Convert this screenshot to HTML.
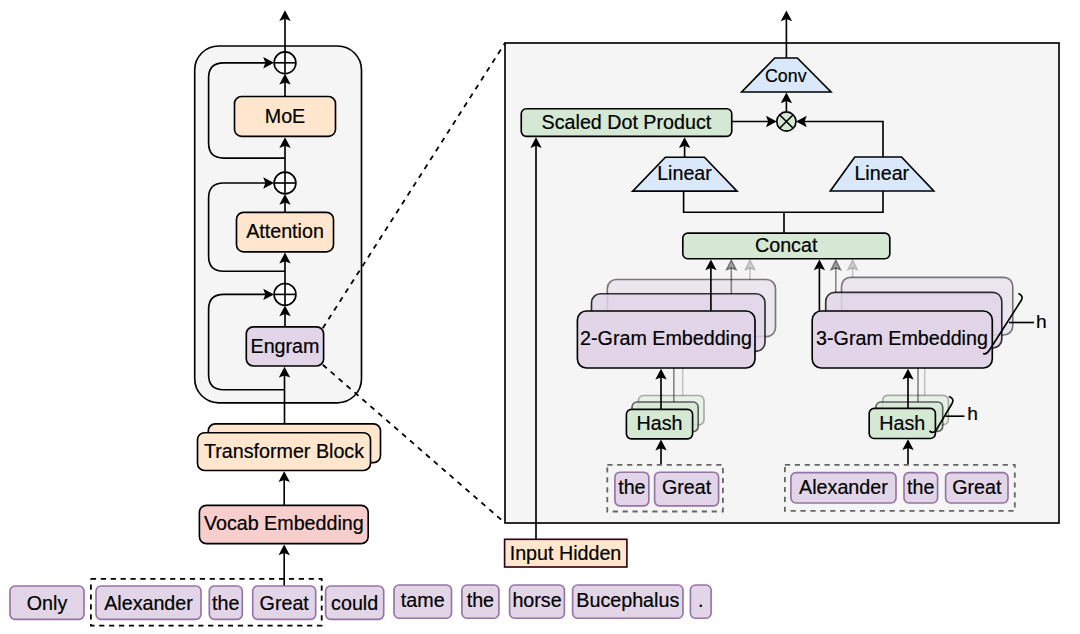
<!DOCTYPE html>
<html><head><meta charset="utf-8"><style>
html,body{margin:0;padding:0;background:#fff;width:1080px;height:634px;overflow:hidden}
svg{display:block}
text{font-family:"Liberation Sans",sans-serif;stroke:#000;stroke-width:0.2px}
</style></head><body>
<svg width="1080" height="634" viewBox="0 0 1080 634">
<rect x="194.70" y="46.00" width="166.80" height="356.80" rx="24" fill="#F5F5F5" stroke="#000" stroke-width="1.65" fill-opacity="1" stroke-opacity="1"/>
<path d="M285.00 52.00 L285.00 18.20" fill="none" stroke="#000" stroke-width="1.65" opacity="1"/>
<polygon points="285.00,10.20 290.70,21.00 285.00,18.80 279.30,21.00" fill="#000" opacity="1"/>
<circle cx="285" cy="62.8" r="10.9" fill="#fff" stroke="#000" stroke-width="1.65"/>
<path d="M274.10 62.80 L295.90 62.80" fill="none" stroke="#000" stroke-width="1.65" opacity="1"/>
<path d="M285.00 51.90 L285.00 73.70" fill="none" stroke="#000" stroke-width="1.65" opacity="1"/>
<circle cx="285" cy="183" r="10.9" fill="#fff" stroke="#000" stroke-width="1.65"/>
<path d="M274.10 183.00 L295.90 183.00" fill="none" stroke="#000" stroke-width="1.65" opacity="1"/>
<path d="M285.00 172.10 L285.00 193.90" fill="none" stroke="#000" stroke-width="1.65" opacity="1"/>
<circle cx="285" cy="294.4" r="10.9" fill="#fff" stroke="#000" stroke-width="1.65"/>
<path d="M274.10 294.40 L295.90 294.40" fill="none" stroke="#000" stroke-width="1.65" opacity="1"/>
<path d="M285.00 283.50 L285.00 305.30" fill="none" stroke="#000" stroke-width="1.65" opacity="1"/>
<path d="M285 158.1 L223.6 158.1 Q208.6 158.1 208.6 143.1 L208.6 77.8 Q208.6 62.8 223.6 62.8 L266 62.8" fill="none" stroke="#000" stroke-width="1.65" opacity="1"/>
<polygon points="274.00,62.80 263.20,68.50 265.40,62.80 263.20,57.10" fill="#000" opacity="1"/>
<path d="M285 271.2 L223.6 271.2 Q208.6 271.2 208.6 256.2 L208.6 198 Q208.6 183 223.6 183 L266 183" fill="none" stroke="#000" stroke-width="1.65" opacity="1"/>
<polygon points="274.00,183.00 263.20,188.70 265.40,183.00 263.20,177.30" fill="#000" opacity="1"/>
<path d="M285 389.7 L223.6 389.7 Q208.6 389.7 208.6 374.7 L208.6 309.4 Q208.6 294.4 223.6 294.4 L266 294.4" fill="none" stroke="#000" stroke-width="1.65" opacity="1"/>
<polygon points="274.00,294.40 263.20,300.10 265.40,294.40 263.20,288.70" fill="#000" opacity="1"/>
<rect x="234.50" y="96.50" width="101.00" height="39.80" rx="7" fill="#FFE6CC" stroke="#000" stroke-width="1.65" fill-opacity="1" stroke-opacity="1"/>
<text x="285.00" y="122.90" font-size="19.7" text-anchor="middle" fill="#000">MoE</text>
<path d="M285.00 172.10 L285.00 145.20" fill="none" stroke="#000" stroke-width="1.65" opacity="1"/>
<polygon points="285.00,137.20 290.70,148.00 285.00,145.80 279.30,148.00" fill="#000" opacity="1"/>
<path d="M285.00 96.50 L285.00 81.80" fill="none" stroke="#000" stroke-width="1.65" opacity="1"/>
<polygon points="285.00,73.80 290.70,84.60 285.00,82.40 279.30,84.60" fill="#000" opacity="1"/>
<rect x="236.50" y="212.30" width="97.00" height="39.50" rx="7" fill="#FFE6CC" stroke="#000" stroke-width="1.65" fill-opacity="1" stroke-opacity="1"/>
<text x="285.00" y="237.90" font-size="19.7" text-anchor="middle" fill="#000">Attention</text>
<path d="M285.00 212.30 L285.00 202.00" fill="none" stroke="#000" stroke-width="1.65" opacity="1"/>
<polygon points="285.00,194.00 290.70,204.80 285.00,202.60 279.30,204.80" fill="#000" opacity="1"/>
<path d="M285.00 283.50 L285.00 260.60" fill="none" stroke="#000" stroke-width="1.65" opacity="1"/>
<polygon points="285.00,252.60 290.70,263.40 285.00,261.20 279.30,263.40" fill="#000" opacity="1"/>
<rect x="246.30" y="326.80" width="77.30" height="39.20" rx="7" fill="#E1D5E7" stroke="#000" stroke-width="1.65" fill-opacity="1" stroke-opacity="1"/>
<text x="285.00" y="352.90" font-size="19.7" text-anchor="middle" fill="#000">Engram</text>
<path d="M285.00 326.80 L285.00 313.40" fill="none" stroke="#000" stroke-width="1.65" opacity="1"/>
<polygon points="285.00,305.40 290.70,316.20 285.00,314.00 279.30,316.20" fill="#000" opacity="1"/>
<path d="M284.50 432.70 L284.50 374.80" fill="none" stroke="#000" stroke-width="1.65" opacity="1"/>
<polygon points="284.50,366.80 290.20,377.60 284.50,375.40 278.80,377.60" fill="#000" opacity="1"/>
<rect x="208.30" y="423.80" width="172.20" height="38.80" rx="7" fill="#FFE6CC" stroke="#000" stroke-width="1.65" fill-opacity="1" stroke-opacity="1"/>
<rect x="197.50" y="432.70" width="173.00" height="37.80" rx="7" fill="#FFE6CC" stroke="#000" stroke-width="1.65" fill-opacity="1" stroke-opacity="1"/>
<text x="284.00" y="458.20" font-size="19.7" text-anchor="middle" fill="#000">Transformer Block</text>
<path d="M284.20 505.30 L284.20 479.30" fill="none" stroke="#000" stroke-width="1.65" opacity="1"/>
<polygon points="284.20,471.30 289.90,482.10 284.20,479.90 278.50,482.10" fill="#000" opacity="1"/>
<rect x="199.40" y="505.30" width="168.80" height="38.30" rx="7" fill="#F8CECC" stroke="#000" stroke-width="1.65" fill-opacity="1" stroke-opacity="1"/>
<text x="283.80" y="530.00" font-size="19.7" text-anchor="middle" fill="#000">Vocab Embedding</text>
<path d="M284.20 586.00 L284.20 552.40" fill="none" stroke="#000" stroke-width="1.65" opacity="1"/>
<polygon points="284.20,544.40 289.90,555.20 284.20,553.00 278.50,555.20" fill="#000" opacity="1"/>
<path d="M90.90 578.80 L321.70 578.80 L321.70 625.70 L90.90 625.70 L90.90 578.80" fill="none" stroke="#000" stroke-width="1.8" stroke-dasharray="5.2 4.7" opacity="1"/>
<rect x="10.00" y="586.00" width="74.00" height="33.30" rx="5" fill="#E1D5E7" stroke="#9673A6" stroke-width="1.65" fill-opacity="1" stroke-opacity="1"/>
<text x="47.00" y="609.60" font-size="19.7" text-anchor="middle" fill="#000">Only</text>
<rect x="96.00" y="586.00" width="105.00" height="33.30" rx="5" fill="#E1D5E7" stroke="#9673A6" stroke-width="1.65" fill-opacity="1" stroke-opacity="1"/>
<text x="148.50" y="609.60" font-size="19.7" text-anchor="middle" fill="#000">Alexander</text>
<rect x="209.30" y="586.00" width="33.00" height="33.30" rx="5" fill="#E1D5E7" stroke="#9673A6" stroke-width="1.65" fill-opacity="1" stroke-opacity="1"/>
<text x="225.80" y="609.60" font-size="19.7" text-anchor="middle" fill="#000">the</text>
<rect x="252.70" y="586.00" width="63.00" height="33.30" rx="5" fill="#E1D5E7" stroke="#9673A6" stroke-width="1.65" fill-opacity="1" stroke-opacity="1"/>
<text x="284.20" y="609.60" font-size="19.7" text-anchor="middle" fill="#000">Great</text>
<rect x="325.60" y="586.00" width="58.10" height="33.30" rx="5" fill="#E1D5E7" stroke="#9673A6" stroke-width="1.65" fill-opacity="1" stroke-opacity="1"/>
<text x="354.65" y="609.50" font-size="19.7" text-anchor="middle" fill="#000">could</text>
<rect x="394.00" y="585.00" width="57.50" height="33.20" rx="5" fill="#E1D5E7" stroke="#9673A6" stroke-width="1.65" fill-opacity="1" stroke-opacity="1"/>
<text x="422.75" y="607.40" font-size="19.7" text-anchor="middle" fill="#000">tame</text>
<rect x="461.90" y="585.00" width="37.00" height="33.20" rx="5" fill="#E1D5E7" stroke="#9673A6" stroke-width="1.65" fill-opacity="1" stroke-opacity="1"/>
<text x="480.40" y="607.40" font-size="19.7" text-anchor="middle" fill="#000">the</text>
<rect x="509.60" y="585.00" width="54.80" height="33.20" rx="5" fill="#E1D5E7" stroke="#9673A6" stroke-width="1.65" fill-opacity="1" stroke-opacity="1"/>
<text x="537.00" y="607.40" font-size="19.7" text-anchor="middle" fill="#000">horse</text>
<rect x="572.60" y="585.00" width="110.40" height="33.20" rx="5" fill="#E1D5E7" stroke="#9673A6" stroke-width="1.65" fill-opacity="1" stroke-opacity="1"/>
<text x="627.80" y="607.20" font-size="19.7" text-anchor="middle" fill="#000">Bucephalus</text>
<rect x="690.40" y="585.00" width="20.70" height="33.20" rx="5" fill="#E1D5E7" stroke="#9673A6" stroke-width="1.65" fill-opacity="1" stroke-opacity="1"/>
<text x="700.75" y="607.40" font-size="19.7" text-anchor="middle" fill="#000">.</text>
<path d="M322.80 328.20 L505.00 43.00" fill="none" stroke="#000" stroke-width="1.8" stroke-dasharray="5.2 5.3" opacity="1"/>
<path d="M322.80 364.80 L505.00 523.00" fill="none" stroke="#000" stroke-width="1.8" stroke-dasharray="5.2 5.3" opacity="1"/>
<rect x="505.00" y="43.00" width="554.00" height="480.00" rx="0" fill="#F5F5F5" stroke="#000" stroke-width="1.65" fill-opacity="1" stroke-opacity="1"/>
<rect x="504.60" y="539.30" width="122.30" height="27.70" rx="0" fill="#FFE6CC" stroke="#33001A" stroke-width="1.65" fill-opacity="1" stroke-opacity="1"/>
<text x="565.50" y="560.10" font-size="19.7" text-anchor="middle" fill="#000">Input Hidden</text>
<path d="M536.00 539.30 L536.00 145.20" fill="none" stroke="#000" stroke-width="1.65" opacity="1"/>
<polygon points="536.00,137.20 541.70,148.00 536.00,145.80 530.30,148.00" fill="#000" opacity="1"/>
<rect x="521.25" y="108.75" width="210.50" height="27.60" rx="5" fill="#D5E8D4" stroke="#000" stroke-width="1.65" fill-opacity="1" stroke-opacity="1"/>
<text x="626.40" y="129.00" font-size="19.7" text-anchor="middle" fill="#000">Scaled Dot Product</text>
<circle cx="786.4" cy="121.5" r="9.6" fill="#D5E8D4" stroke="#000" stroke-width="1.65"/>
<path d="M779.61 114.71 L793.19 128.29" fill="none" stroke="#000" stroke-width="1.65" opacity="1"/>
<path d="M779.61 128.29 L793.19 114.71" fill="none" stroke="#000" stroke-width="1.65" opacity="1"/>
<path d="M731.70 121.50 L768.80 121.50" fill="none" stroke="#000" stroke-width="1.65" opacity="1"/>
<polygon points="776.80,121.50 766.00,127.20 768.20,121.50 766.00,115.80" fill="#000" opacity="1"/>
<path d="M774.7 58 L797.3 58 L831 92 L741.7 92 Z" fill="#DAE8FC" stroke="#000" stroke-width="1.65" opacity="1"/>
<text x="785.80" y="81.70" font-size="17.8" text-anchor="middle" fill="#000">Conv</text>
<path d="M786.40 111.90 L786.40 100.50" fill="none" stroke="#000" stroke-width="1.65" opacity="1"/>
<polygon points="786.40,92.50 792.10,103.30 786.40,101.10 780.70,103.30" fill="#000" opacity="1"/>
<path d="M786.40 58.00 L786.40 18.40" fill="none" stroke="#000" stroke-width="1.65" opacity="1"/>
<polygon points="786.40,10.40 792.10,21.20 786.40,19.00 780.70,21.20" fill="#000" opacity="1"/>
<path d="M854.8 157 L901.5 157 L933.75 191 L830.3 191 Z" fill="#DAE8FC" stroke="#000" stroke-width="1.65" opacity="1"/>
<text x="881.80" y="180.20" font-size="19.7" text-anchor="middle" fill="#000">Linear</text>
<path d="M883.00 157.00 L883.00 121.50 L804.00 121.50" fill="none" stroke="#000" stroke-width="1.65" opacity="1"/>
<polygon points="796.00,121.50 806.80,127.20 804.60,121.50 806.80,115.80" fill="#000" opacity="1"/>
<path d="M665.4 157.2 L704.4 157.2 L737 191.1 L632.7 191.1 Z" fill="#DAE8FC" stroke="#000" stroke-width="1.65" opacity="1"/>
<text x="684.50" y="180.10" font-size="19.7" text-anchor="middle" fill="#000">Linear</text>
<path d="M684.60 157.20 L684.60 145.20" fill="none" stroke="#000" stroke-width="1.65" opacity="1"/>
<polygon points="684.60,137.20 690.30,148.00 684.60,145.80 678.90,148.00" fill="#000" opacity="1"/>
<path d="M683.60 191.10 L683.60 212.20 L883.00 212.20 L883.00 191.00" fill="none" stroke="#000" stroke-width="1.65" opacity="1"/>
<path d="M784.00 212.20 L784.00 233.00" fill="none" stroke="#000" stroke-width="1.65" opacity="1"/>
<rect x="682.80" y="233.10" width="207.00" height="25.60" rx="5" fill="#D5E8D4" stroke="#000" stroke-width="1.65" fill-opacity="1" stroke-opacity="1"/>
<text x="786.20" y="252.10" font-size="19.7" text-anchor="middle" fill="#000">Concat</text>
<rect x="607.30" y="279.50" width="168.20" height="57.10" rx="9" fill="#E1D5E7" stroke="#000" stroke-width="1.65" fill-opacity="0.45" stroke-opacity="0.5"/>
<rect x="591.50" y="293.70" width="173.50" height="57.70" rx="9" fill="#E1D5E7" stroke="#000" stroke-width="1.65" fill-opacity="0.85" stroke-opacity="0.8"/>
<rect x="577.40" y="311.00" width="177.60" height="57.00" rx="9" fill="#E1D5E7" stroke="#000" stroke-width="1.65" fill-opacity="1" stroke-opacity="1"/>
<text x="666.00" y="344.90" font-size="19.7" text-anchor="middle" fill="#000">2-Gram Embedding</text>
<path d="M710.90 311.00 L710.90 267.50" fill="none" stroke="#000" stroke-width="1.65" opacity="1"/>
<polygon points="710.90,259.50 716.60,270.30 710.90,268.10 705.20,270.30" fill="#000" opacity="1"/>
<path d="M731.30 293.70 L731.30 267.50" fill="none" stroke="#000" stroke-width="1.65" opacity="0.45"/>
<polygon points="731.30,260.10 736.20,269.90 731.30,268.00 726.40,269.90" fill="#000" fill-opacity="0.34" stroke="#000" stroke-opacity="0.45" stroke-width="1.3" stroke-linejoin="miter"/>
<path d="M750.00 279.50 L750.00 267.50" fill="none" stroke="#000" stroke-width="1.65" opacity="0.2"/>
<polygon points="750.00,260.10 754.90,269.90 750.00,268.00 745.10,269.90" fill="#000" fill-opacity="0.15" stroke="#000" stroke-opacity="0.2" stroke-width="1.3" stroke-linejoin="miter"/>
<rect x="841.50" y="277.30" width="171.30" height="57.70" rx="9" fill="#E1D5E7" stroke="#000" stroke-width="1.65" fill-opacity="0.45" stroke-opacity="0.5"/>
<rect x="825.70" y="292.40" width="176.10" height="55.60" rx="9" fill="#E1D5E7" stroke="#000" stroke-width="1.65" fill-opacity="0.85" stroke-opacity="0.8"/>
<rect x="812.20" y="311.00" width="180.10" height="57.00" rx="9" fill="#E1D5E7" stroke="#000" stroke-width="1.65" fill-opacity="1" stroke-opacity="1"/>
<text x="902.00" y="344.50" font-size="19.7" text-anchor="middle" fill="#000">3-Gram Embedding</text>
<path d="M819.40 311.00 L819.40 267.50" fill="none" stroke="#000" stroke-width="1.65" opacity="1"/>
<polygon points="819.40,259.50 825.10,270.30 819.40,268.10 813.70,270.30" fill="#000" opacity="1"/>
<path d="M835.80 292.40 L835.80 267.50" fill="none" stroke="#000" stroke-width="1.65" opacity="0.45"/>
<polygon points="835.80,260.10 840.70,269.90 835.80,268.00 830.90,269.90" fill="#000" fill-opacity="0.34" stroke="#000" stroke-opacity="0.45" stroke-width="1.3" stroke-linejoin="miter"/>
<path d="M852.60 277.30 L852.60 267.50" fill="none" stroke="#000" stroke-width="1.65" opacity="0.2"/>
<polygon points="852.60,260.10 857.50,269.90 852.60,268.00 847.70,269.90" fill="#000" fill-opacity="0.15" stroke="#000" stroke-opacity="0.2" stroke-width="1.3" stroke-linejoin="miter"/>
<path d="M1018.3 293.6 Q1023.5 295.5 1021.5 300 L989.5 350 Q986.5 355 983 353.5" fill="none" stroke="#000" stroke-width="1.65" opacity="1"/>
<path d="M1009.00 322.50 L1034.00 322.50" fill="none" stroke="#000" stroke-width="1.65" opacity="1"/>
<text x="1036.00" y="328.20" font-size="19.2" text-anchor="start" fill="#000">h</text>
<rect x="638.40" y="395.50" width="65.60" height="29.30" rx="5" fill="#D5E8D4" stroke="#000" stroke-width="1.65" fill-opacity="0.4" stroke-opacity="0.3"/>
<rect x="632.00" y="402.00" width="66.20" height="29.60" rx="5" fill="#D5E8D4" stroke="#000" stroke-width="1.65" fill-opacity="0.85" stroke-opacity="0.6"/>
<rect x="626.40" y="409.40" width="66.20" height="29.40" rx="5" fill="#D5E8D4" stroke="#000" stroke-width="1.65" fill-opacity="1" stroke-opacity="1"/>
<text x="659.50" y="429.90" font-size="19.7" text-anchor="middle" fill="#000">Hash</text>
<path d="M661.00 409.40 L661.00 376.80" fill="none" stroke="#000" stroke-width="1.65" opacity="1"/>
<polygon points="661.00,368.80 666.70,379.60 661.00,377.40 655.30,379.60" fill="#000" opacity="1"/>
<path d="M673.80 402.00 L673.80 368.00" fill="none" stroke="#000" stroke-width="1.65" opacity="0.45"/>
<path d="M682.70 395.50 L682.70 368.00" fill="none" stroke="#000" stroke-width="1.65" opacity="0.2"/>
<path d="M661.00 464.60 L661.00 447.60" fill="none" stroke="#000" stroke-width="1.65" opacity="1"/>
<polygon points="661.00,439.60 666.70,450.40 661.00,448.20 655.30,450.40" fill="#000" opacity="1"/>
<path d="M607.30 464.80 L722.90 464.80 L722.90 511.50 L607.30 511.50 L607.30 464.80" fill="none" stroke="#666" stroke-width="1.8" stroke-dasharray="5.2 4.7" opacity="1"/>
<rect x="614.90" y="472.20" width="33.90" height="33.60" rx="5" fill="#E1D5E7" stroke="#9673A6" stroke-width="1.65" fill-opacity="1" stroke-opacity="1"/>
<text x="631.85" y="494.00" font-size="19.7" text-anchor="middle" fill="#000">the</text>
<rect x="654.60" y="472.20" width="64.00" height="33.60" rx="5" fill="#E1D5E7" stroke="#9673A6" stroke-width="1.65" fill-opacity="1" stroke-opacity="1"/>
<text x="686.60" y="494.00" font-size="19.7" text-anchor="middle" fill="#000">Great</text>
<rect x="882.60" y="395.40" width="65.80" height="29.30" rx="5" fill="#D5E8D4" stroke="#000" stroke-width="1.65" fill-opacity="0.4" stroke-opacity="0.3"/>
<rect x="875.90" y="402.00" width="66.80" height="29.40" rx="5" fill="#D5E8D4" stroke="#000" stroke-width="1.65" fill-opacity="0.85" stroke-opacity="0.6"/>
<rect x="869.20" y="408.40" width="66.20" height="30.10" rx="5" fill="#D5E8D4" stroke="#000" stroke-width="1.65" fill-opacity="1" stroke-opacity="1"/>
<text x="902.30" y="429.70" font-size="19.7" text-anchor="middle" fill="#000">Hash</text>
<path d="M908.00 408.40 L908.00 376.80" fill="none" stroke="#000" stroke-width="1.65" opacity="1"/>
<polygon points="908.00,368.80 913.70,379.60 908.00,377.40 902.30,379.60" fill="#000" opacity="1"/>
<path d="M918.00 402.00 L918.00 368.00" fill="none" stroke="#000" stroke-width="1.65" opacity="0.45"/>
<path d="M924.70 395.40 L924.70 368.00" fill="none" stroke="#000" stroke-width="1.65" opacity="0.2"/>
<path d="M908.00 464.60 L908.00 447.30" fill="none" stroke="#000" stroke-width="1.65" opacity="1"/>
<polygon points="908.00,439.30 913.70,450.10 908.00,447.90 902.30,450.10" fill="#000" opacity="1"/>
<path d="M948.9 396.4 Q954.5 398.5 952.3 403 L936 430.5 Q933 434 929.5 431" fill="none" stroke="#000" stroke-width="1.65" opacity="1"/>
<path d="M945.50 416.20 L964.50 416.20" fill="none" stroke="#000" stroke-width="1.65" opacity="1"/>
<text x="967.20" y="420.40" font-size="19.2" text-anchor="start" fill="#000">h</text>
<path d="M784.90 464.80 L1014.80 464.80 L1014.80 510.90 L784.90 510.90 L784.90 464.80" fill="none" stroke="#666" stroke-width="1.8" stroke-dasharray="5.2 4.7" opacity="1"/>
<rect x="790.90" y="472.60" width="105.10" height="30.40" rx="5" fill="#E1D5E7" stroke="#9673A6" stroke-width="1.65" fill-opacity="1" stroke-opacity="1"/>
<text x="843.45" y="494.00" font-size="19.7" text-anchor="middle" fill="#000">Alexander</text>
<rect x="904.00" y="472.60" width="33.60" height="30.40" rx="5" fill="#E1D5E7" stroke="#9673A6" stroke-width="1.65" fill-opacity="1" stroke-opacity="1"/>
<text x="920.80" y="494.00" font-size="19.7" text-anchor="middle" fill="#000">the</text>
<rect x="945.60" y="472.60" width="62.40" height="30.40" rx="5" fill="#E1D5E7" stroke="#9673A6" stroke-width="1.65" fill-opacity="1" stroke-opacity="1"/>
<text x="976.80" y="494.00" font-size="19.7" text-anchor="middle" fill="#000">Great</text>
</svg></body></html>
